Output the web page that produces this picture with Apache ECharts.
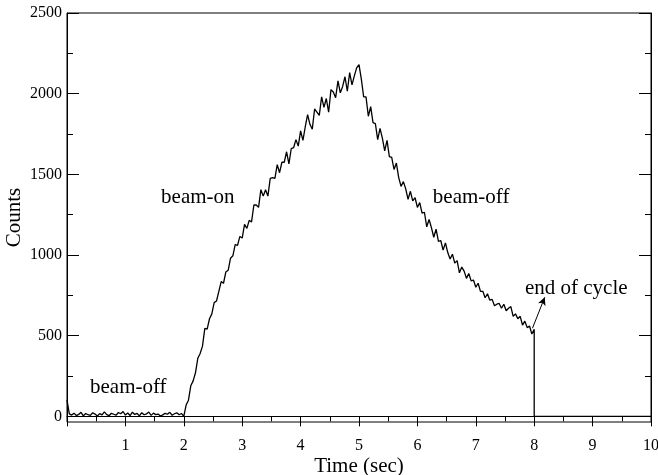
<!DOCTYPE html>
<html>
<head>
<meta charset="utf-8">
<script src="https://cdn.jsdelivr.net/npm/echarts@6/dist/echarts.min.js"></script>
<style>html,body{margin:0;padding:0;background:#fff}#c{width:658px;height:475px}</style>
</head>
<body>
<div id="c"></div>
<script>
// sampling grid of the measured curve (sec)
const t0 = 0, dt = 0.04;
// counts, 0.00 .. 1.96 s (beam-off)
const baseCounts = [100, 15, 8, 20, 5, 12, 25, 3, 18, 10, 6, 22, 14, 2, 17, 9, 28, 11, 4, 19,
  13, 7, 24, 16, 30, 8, 21, 5, 26, 12, 18, 3, 23, 10, 15, 27, 6, 20, 11, 14,
  2, 9, 19, 13, 25, 7, 16, 22, 10, 18];
// counts, 2.00 .. 4.96 s (beam-on)
const riseCounts = [0, 70, 100, 190, 220, 270, 360, 390, 435, 545, 540, 605, 635, 705, 715, 775, 835, 825, 895, 905, 980, 995, 1065, 1060, 1115,
  1105, 1190, 1165, 1215, 1205, 1310, 1310, 1295, 1405, 1365, 1405, 1365, 1475, 1480, 1475, 1560, 1510, 1575, 1575, 1640, 1565, 1660, 1665, 1715, 1675,
  1770, 1710, 1795, 1870, 1810, 1780, 1905, 1885, 1865, 1980, 1915, 1970, 1885, 2025, 2010, 1975, 2080, 2005, 2045, 2105, 2015, 2130, 2055, 2110, 2160];
// counts, 5.00 .. 7.96 s (beam-off decay)
const fallCounts = [2180, 2090, 1980, 1980, 1860, 1920, 1820, 1815, 1715, 1785, 1725, 1645, 1710, 1610, 1605, 1530, 1570, 1480, 1425, 1455, 1410, 1345, 1395, 1335, 1355,
  1295, 1325, 1260, 1265, 1175, 1220, 1170, 1110, 1160, 1085, 1090, 1030, 1075, 1015, 975, 1005, 950, 965, 890, 925, 900, 855, 885, 840, 845,
  800, 825, 775, 775, 735, 760, 720, 725, 685, 695, 700, 670, 695, 655, 670, 680, 620, 635, 605, 620, 565, 590, 550, 560, 510];
// end of cycle
const tailTime = [8.0, 8.0, 10.0];
const tailCounts = [540, 0, 0];

const xTicks = [1, 2, 3, 4, 5, 6, 7, 8, 9, 10];
const yMajor = [0, 500, 1000, 1500, 2000, 2500];
const yMinor = [250, 750, 1250, 1750, 2250];

const notes = [
  {name: 'beam-off', coord: [1.05, 176]},
  {name: 'beam-on', coord: [2.24, 1354]},
  {name: 'beam-off', coord: [6.92, 1354]},
  {name: 'end of cycle', coord: [8.72, 790]}
];
const arrowFrom = [7.97, 546], arrowTo = [8.18, 738];

const counts = baseCounts.concat(riseCounts, fallCounts);
const data = counts.map((v, i) => [+(t0 + i * dt).toFixed(2), v]);
tailTime.forEach((t, i) => data.push([t, tailCounts[i]]));

const font = 'Liberation Serif, Times New Roman, serif';
const chart = echarts.init(document.getElementById('c'), null, {renderer: 'canvas'});
const yBase = {type: 'value', min: -35, max: 2500, splitLine: {show: false}};
chart.setOption({
  animation: false,
  backgroundColor: '#fff',
  textStyle: {fontFamily: font, color: '#000'},
  grid: {left: 67, right: 7, top: 13, bottom: 53, outerBoundsMode: 'none', containLabel: false,
    show: true, borderColor: '#000', borderWidth: 1, backgroundColor: 'transparent'},
  xAxis: {
    type: 'value', min: 0, max: 10, interval: 1,
    name: 'Time (sec)', nameLocation: 'middle', nameGap: 34, nameMoveOverlap: false,
    nameTextStyle: {fontFamily: font, fontSize: 21, color: '#000'},
    axisLine: {show: true, lineStyle: {color: '#000', width: 1}},
    axisTick: {show: true, inside: false, length: 10, lineStyle: {color: '#000'}},
    minorTick: {show: true, splitNumber: 2, length: 5, lineStyle: {color: '#000'}},
    axisLabel: {fontFamily: font, fontSize: 16, color: '#000', margin: 16,
      formatter: v => (xTicks.indexOf(v) >= 0 ? String(v) : '')},
    splitLine: {show: false}
  },
  yAxis: [
    Object.assign({}, yBase, {
      position: 'left',
      name: 'Counts', nameLocation: 'middle', nameGap: 42, nameRotate: 90, nameMoveOverlap: false,
      nameTextStyle: {fontFamily: font, fontSize: 21, color: '#000'},
      axisLine: {show: true, lineStyle: {color: '#000'}},
      axisTick: {show: true, inside: true, length: 12, customValues: yMajor, lineStyle: {color: '#000'}},
      axisLabel: {show: true, customValues: yMajor, fontFamily: font, fontSize: 16, color: '#000', margin: 5,
        formatter: v => String(v)}
    }),
    Object.assign({}, yBase, {
      position: 'left',
      axisLine: {show: false},
      axisTick: {show: true, inside: true, length: 6, customValues: yMinor, lineStyle: {color: '#000'}},
      axisLabel: {show: false}
    }),
    Object.assign({}, yBase, {
      position: 'right',
      axisLine: {show: true, lineStyle: {color: '#000'}},
      axisTick: {show: true, inside: true, length: 12, customValues: yMajor, lineStyle: {color: '#000'}},
      axisLabel: {show: false}
    }),
    Object.assign({}, yBase, {
      position: 'right',
      axisLine: {show: false},
      axisTick: {show: true, inside: true, length: 6, customValues: yMinor, lineStyle: {color: '#000'}},
      axisLabel: {show: false}
    })
  ],
  series: [{
    type: 'line',
    data: data,
    yAxisIndex: 0,
    showSymbol: false,
    symbol: 'none',
    lineStyle: {color: '#000', width: 1.3},
    markPoint: {
      symbol: 'circle', symbolSize: 0,
      label: {show: true, position: 'inside', formatter: p => p.name, fontFamily: font, fontSize: 21, color: '#000'},
      data: notes.map(n => ({name: n.name, coord: n.coord}))
    },
    markLine: {
      silent: true,
      symbol: ['none', 'arrow'], symbolSize: [6, 8],
      label: {show: false},
      lineStyle: {color: '#000', width: 1, type: 'solid'},
      data: [[{coord: arrowFrom}, {coord: arrowTo}]]
    }
  }]
});
</script>
</body>
</html>
